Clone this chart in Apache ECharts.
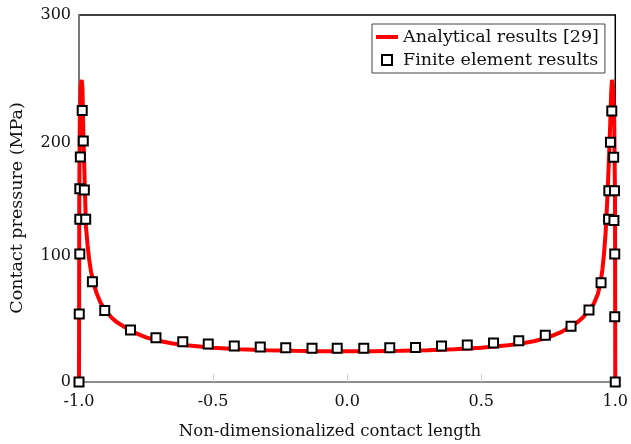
<!DOCTYPE html>
<html>
<head>
<meta charset="utf-8">
<script src="https://cdn.jsdelivr.net/npm/echarts@6/dist/echarts.min.js"></script>
<style>
  html, body { margin: 0; padding: 0; background: #fff; }
  #chart { width: 631px; height: 444px; }
</style>
</head>
<body>
<div id="chart"></div>
<script>
// Analytical contact pressure along the non-dimensional contact length
const analyticalX = [-1.0, -0.999, -0.997, -0.994, -0.990, -0.987, -0.984, -0.981, -0.977, -0.974,
  -0.968, -0.962, -0.955, -0.945, -0.935, -0.92, -0.90, -0.88, -0.86, -0.83, -0.80, -0.75, -0.70,
  -0.65, -0.60, -0.50, -0.40, -0.30, -0.20, -0.10, 0.00, 0.10, 0.20, 0.30, 0.40, 0.50, 0.60, 0.65,
  0.70, 0.75, 0.80, 0.83, 0.86, 0.88, 0.90, 0.92, 0.935, 0.945, 0.952, 0.958, 0.964, 0.970, 0.976,
  0.981, 0.985, 0.988, 0.992, 0.996, 0.999, 1.0];
const analyticalP = [0, 150, 215, 240, 247, 240, 205, 181, 150, 127,
  112, 100, 90, 80, 73, 65, 58, 53, 49, 45, 41, 36.5, 33.5,
  31.5, 30, 28, 26.8, 26, 25.5, 25.2, 25.1, 25.2, 25.5, 26, 26.8, 28, 30, 31.5,
  33.5, 36.5, 41, 45, 49, 53, 58, 64, 72, 81, 92, 105, 122, 148, 180,
  210, 238, 247, 240, 215, 150, 0];

// Finite element nodal results
const feX = [-1.0, -0.999, -0.997, -0.997, -0.997, -0.995, -0.988, -0.984, -0.980, -0.975,
  -0.950, -0.904, -0.808, -0.713, -0.613, -0.518, -0.421, -0.324, -0.229, -0.131,
  -0.037, 0.062, 0.159, 0.255, 0.352, 0.448, 0.546, 0.640, 0.739, 0.835,
  0.902, 0.947, 0.975, 0.976, 0.982, 0.987, 0.994, 0.995, 0.997, 0.998, 0.998, 1.0];
const feP = [0, 55.6, 104.6, 133, 158, 184, 222, 197, 157, 133,
  82, 58.5, 42.5, 36.2, 33.0, 31.1, 29.4, 28.6, 28.0, 27.5,
  27.5, 27.5, 28.0, 28.3, 29.4, 30.3, 31.9, 33.8, 38.2, 45.5,
  58.9, 81.2, 133, 156.4, 196, 221.5, 183.7, 132, 156.4, 104.6, 53.4, 0];

const xTicks = [-1.0, -0.5, 0.0, 0.5, 1.0];
const yTicks = [0, 100, 200, 300];

const SERIF = '"DejaVu Serif", "Liberation Serif", serif';

// small vertical nudges of the pressure tick labels (px, + = down)
const yLabelNudge = { 100: -4, 200: 6 };

const chart = echarts.init(document.getElementById('chart'), null, { renderer: 'canvas' });

chart.setOption({
  animation: false,
  backgroundColor: '#fff',
  grid: {
    left: 79, right: 8.5, top: 15, bottom: 62,
    show: true, borderColor: '#000', borderWidth: 1.5, backgroundColor: 'transparent'
  },
  xAxis: {
    type: 'value',
    min: xTicks[0], max: xTicks[xTicks.length - 1], interval: 0.5,
    axisLine: { onZero: false, lineStyle: { color: '#8c8c8c', width: 2 } },
    axisTick: { show: true, inside: true, length: 8, lineStyle: { color: '#cfcfcf', width: 1 } },
    splitLine: { show: false },
    axisLabel: {
      margin: 12, color: '#111', fontFamily: SERIF, fontSize: 16,
      formatter: v => v.toFixed(1)
    }
  },
  yAxis: {
    type: 'value',
    min: yTicks[0], max: yTicks[yTicks.length - 1], interval: 100,
    axisLine: { show: true, onZero: false, lineStyle: { color: '#8c8c8c', width: 1.5 } },
    axisTick: { show: false },
    splitLine: { show: false },
    axisLabel: {
      margin: 8, color: '#111', fontFamily: SERIF, fontSize: 16,
      formatter: v => {
        const d = yLabelNudge[v] || 0;
        if (d > 0) return '{dn|' + v + '}';
        if (d < 0) return '{up|' + v + '}';
        return String(v);
      },
      rich: {
        dn: { fontFamily: SERIF, fontSize: 16, color: '#111', padding: [2 * yLabelNudge[200], 0, 0, 0] },
        up: { fontFamily: SERIF, fontSize: 16, color: '#111', padding: [0, 0, -2 * yLabelNudge[100], 0] }
      }
    }
  },
  legend: {
    orient: 'vertical',
    left: 372, top: 24,
    padding: [4, 6, 4, 4],
    itemGap: 5,
    itemWidth: 22, itemHeight: 10,
    symbolKeepAspect: true,
    borderColor: '#444', borderWidth: 1, borderRadius: 0,
    backgroundColor: '#fff',
    textStyle: { fontFamily: SERIF, fontSize: 17.5, color: '#111' },
    data: [
      { name: 'Analytical results [29]', icon: 'path://M0,0H22V4H0Z' },
      { name: 'Finite element results', icon: 'path://M0,0H10V10H0Z' }
    ]
  },
  graphic: [
    {
      type: 'text', x: 17, y: 208, rotation: Math.PI / 2,
      style: {
        text: 'Contact pressure (MPa)', align: 'center', verticalAlign: 'middle',
        font: '17.5px ' + SERIF, fill: '#111'
      }
    },
    {
      type: 'text', x: 330, y: 432,
      style: {
        text: 'Non-dimensionalized contact length', align: 'center', verticalAlign: 'middle',
        font: '16.5px ' + SERIF, fill: '#111'
      }
    }
  ],
  series: [
    {
      name: 'Analytical results [29]',
      type: 'line',
      data: analyticalX.map((x, i) => [x, analyticalP[i]]),
      symbol: 'none',
      smooth: false,
      lineStyle: { color: '#ff0000', width: 4 },
      itemStyle: { color: '#ff0000' },
      z: 2
    },
    {
      name: 'Finite element results',
      type: 'scatter',
      data: feX.map((x, i) => [x, feP[i]]),
      symbol: 'rect',
      symbolSize: 9,
      itemStyle: { color: '#fff', borderColor: '#000', borderWidth: 2, opacity: 1 },
      z: 3
    }
  ]
});
</script>
</body>
</html>
